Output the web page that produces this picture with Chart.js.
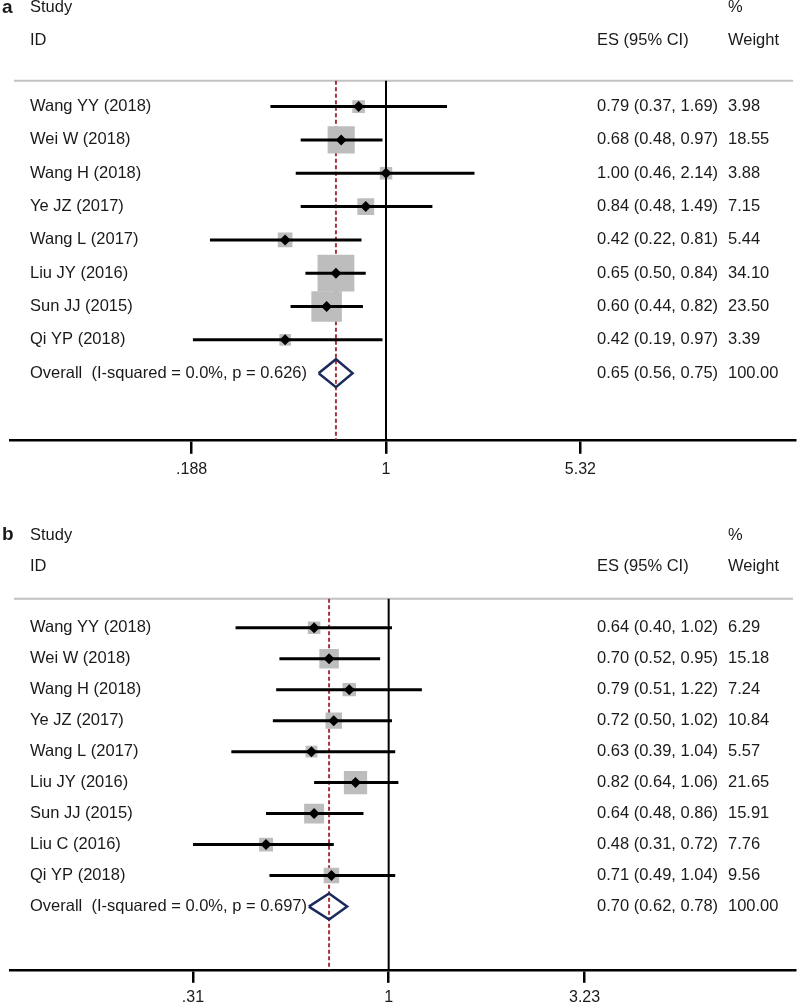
<!DOCTYPE html>
<html>
<head>
<meta charset="utf-8">
<script src="https://cdn.jsdelivr.net/npm/chart.js@4.4.0/dist/chart.umd.min.js"></script>
<style>
  html, body { margin: 0; padding: 0; background: #fff; overflow: hidden; }
  canvas { position: absolute; left: 0; }
</style>
</head>
<body>
<canvas id="plot-a" width="797" height="520" style="top:0"></canvas>
<canvas id="plot-b" width="797" height="492" style="top:520px"></canvas>
<script>
// Two Stata-style forest plots (metan output), log-scaled effect axis.

// ---------- data: panel a ----------
const studiesA = ["Wang YY (2018)", "Wei W (2018)", "Wang H (2018)", "Ye JZ (2017)",
  "Wang L (2017)", "Liu JY (2016)", "Sun JJ (2015)", "Qi YP (2018)"];
const esA = [0.79, 0.68, 1.00, 0.84, 0.42, 0.65, 0.60, 0.42];
const loA = [0.37, 0.48, 0.46, 0.48, 0.22, 0.50, 0.44, 0.19];
const hiA = [1.69, 0.97, 2.14, 1.49, 0.81, 0.84, 0.82, 0.97];
const weightA = [3.98, 18.55, 3.88, 7.15, 5.44, 34.10, 23.50, 3.39];
const overallA = [0.65, 0.56, 0.75];          // ES, lower, upper
const hetA = [0.0, 0.626];                    // I-squared %, p
const tickValsA = [0.188, 1, 5.32];
const tickLabelsA = [".188", "1", "5.32"];

// ---------- data: panel b ----------
const studiesB = ["Wang YY (2018)", "Wei W (2018)", "Wang H (2018)", "Ye JZ (2017)",
  "Wang L (2017)", "Liu JY (2016)", "Sun JJ (2015)", "Liu C (2016)", "Qi YP (2018)"];
const esB = [0.64, 0.70, 0.79, 0.72, 0.63, 0.82, 0.64, 0.48, 0.71];
const loB = [0.40, 0.52, 0.51, 0.50, 0.39, 0.64, 0.48, 0.31, 0.49];
const hiB = [1.02, 0.95, 1.22, 1.02, 1.04, 1.06, 0.86, 0.72, 1.04];
const weightB = [6.29, 15.18, 7.24, 10.84, 5.57, 21.65, 15.91, 7.76, 9.56];
const overallB = [0.70, 0.62, 0.78];
const hetB = [0.0, 0.697];
const tickValsB = [0.31, 1, 3.23];
const tickLabelsB = [".31", "1", "3.23"];

// ---------- styling ----------
const FONT = '"Liberation Sans", Arial, Helvetica, sans-serif';
const INK = "#1a1a1a";
const BOX = "#bdbdbd";
const RULE = "#c2c2c2";
const RED = "#a8323a";
const NAVY = "#1b2a5c";
const DIAMOND_H = 0.42;       // half height of the pooled diamond, in rows
const COL_ID = 30, COL_ES = 597, COL_W = 728;

const panels = [
  {
    el: "plot-a", letter: "a",
    studies: studiesA, es: esA, lo: loA, hi: hiA, w: weightA, overall: overallA, het: hetA,
    ticks: tickValsA, tickLabels: tickLabelsA,
    xMin: 0.0394, xMax: 33.7, yMin: -2.2, yMax: 11,
    studyRow: -1.97, idRow: -0.99, ruleRow: 0.225,
    tickLen: 14, tickPad: 6, padBottom: 35, boxScale: 6.3,
  },
  {
    el: "plot-b", letter: "b",
    studies: studiesB, es: esB, lo: loB, hi: hiB, w: weightB, overall: overallB, het: hetB,
    ticks: tickValsB, tickLabels: tickLabelsB,
    xMin: 0.1037, xMax: 11.38, yMin: -2.474, yMax: 12.04,
    studyRow: -1.99, idRow: -0.96, ruleRow: 0.07,
    tickLen: 13, tickPad: 5, padBottom: 0, boxScale: 5.0,
  },
];

const f2 = (v) => v.toFixed(2);

function buildDatasets(p) {
  const rows = p.studies.map((_, i) => i + 1);
  const oRow = p.studies.length + 1;
  const [oEs, oLo, oHi] = p.overall;
  const ds = [];
  // pooled estimate diamond
  ds.push({
    data: [{ x: oLo, y: oRow }, { x: oEs, y: oRow - DIAMOND_H }, { x: oHi, y: oRow },
           { x: oEs, y: oRow + DIAMOND_H }, { x: oLo, y: oRow }],
    showLine: true, borderColor: NAVY, borderWidth: 2.5, borderJoinStyle: "miter",
    pointRadius: 0, order: 0,
  });
  // study point estimates
  ds.push({
    data: rows.map((r, i) => ({ x: p.es[i], y: r })),
    pointStyle: "rectRot", pointRadius: 5.5, backgroundColor: "#000", borderWidth: 0, order: 1,
  });
  // confidence intervals
  rows.forEach((r, i) => ds.push({
    data: [{ x: p.lo[i], y: r }, { x: p.hi[i], y: r }],
    showLine: true, borderColor: "#000", borderWidth: 3, pointRadius: 0, order: 2,
  }));
  // null line at 1
  ds.push({
    data: [{ x: 1, y: p.ruleRow }, { x: 1, y: p.yMax }],
    showLine: true, borderColor: "#000", borderWidth: 2, pointRadius: 0, order: 3,
  });
  // weight boxes (area ~ weight)
  ds.push({
    data: rows.map((r, i) => ({ x: p.es[i], y: r })),
    pointStyle: "rect", pointRadius: p.w.map((w) => p.boxScale * Math.sqrt(w) / Math.SQRT2),
    backgroundColor: BOX, borderWidth: 0, order: 4,
  });
  // dashed line at pooled estimate
  ds.push({
    data: [{ x: oEs, y: p.ruleRow }, { x: oEs, y: p.yMax }],
    showLine: true, borderColor: RED, borderWidth: 2, borderDash: [4, 2.5], pointRadius: 0, order: 5,
  });
  return ds;
}

function textPlugin(p) {
  return {
    id: "forestText",
    beforeDatasetsDraw(chart) {
      const { ctx, scales: { y }, chartArea } = chart;
      const ry = y.getPixelForValue(p.ruleRow);
      ctx.save();
      ctx.strokeStyle = RULE;
      ctx.lineWidth = 2;
      ctx.beginPath();
      ctx.moveTo(14, ry);
      ctx.lineTo(chartArea.right - 2, ry);
      ctx.stroke();
      ctx.restore();
    },
    afterDatasetsDraw(chart) {
      const { ctx, scales: { y } } = chart;
      const py = (r) => y.getPixelForValue(r);
      ctx.save();
      ctx.fillStyle = INK;
      ctx.textBaseline = "middle";
      ctx.textAlign = "left";
      ctx.font = `bold 19px ${FONT}`;
      ctx.fillText(p.letter, 2, py(p.studyRow));
      ctx.font = `16.5px ${FONT}`;
      ctx.fillText("Study", COL_ID, py(p.studyRow));
      ctx.fillText("%", COL_W, py(p.studyRow));
      ctx.fillText("ID", COL_ID, py(p.idRow));
      ctx.fillText("ES (95% CI)", COL_ES, py(p.idRow));
      ctx.fillText("Weight", COL_W, py(p.idRow));
      p.studies.forEach((s, i) => {
        const yy = py(i + 1);
        ctx.fillText(s, COL_ID, yy);
        ctx.fillText(`${f2(p.es[i])} (${f2(p.lo[i])}, ${f2(p.hi[i])})`, COL_ES, yy);
        ctx.fillText(f2(p.w[i]), COL_W, yy);
      });
      const oy = py(p.studies.length + 1);
      const [oEs, oLo, oHi] = p.overall;
      ctx.fillText(`Overall  (I-squared = ${p.het[0].toFixed(1)}%, p = ${p.het[1].toFixed(3)})`, COL_ID, oy);
      ctx.fillText(`${f2(oEs)} (${f2(oLo)}, ${f2(oHi)})`, COL_ES, oy);
      ctx.fillText("100.00", COL_W, oy);
      ctx.restore();
    },
  };
}

panels.forEach((p) => {
  new Chart(document.getElementById(p.el), {
    type: "scatter",
    data: { datasets: buildDatasets(p) },
    options: {
      responsive: false,
      animation: false,
      events: [],
      layout: { autoPadding: false, padding: { left: 10, right: 2, top: 0, bottom: p.padBottom } },
      plugins: { legend: { display: false }, tooltip: { enabled: false } },
      scales: {
        x: {
          type: "logarithmic", position: "bottom", bounds: "data",
          min: p.xMin, max: p.xMax,
          afterBuildTicks: (ax) => { ax.ticks = p.ticks.map((v) => ({ value: v })); },
          ticks: {
            autoSkip: false, maxRotation: 0, padding: p.tickPad, color: INK,
            font: { family: FONT, size: 16 },
            callback: (v, i) => p.tickLabels[i],
          },
          grid: { drawOnChartArea: false, drawTicks: true, tickLength: p.tickLen, tickColor: "#000", lineWidth: 2.5, tickWidth: 2.5 },
          border: { display: true, color: "#000", width: 2.5 },
        },
        y: { type: "linear", display: false, reverse: true, min: p.yMin, max: p.yMax },
      },
    },
    plugins: [textPlugin(p)],
  });
});
</script>
</body>
</html>
